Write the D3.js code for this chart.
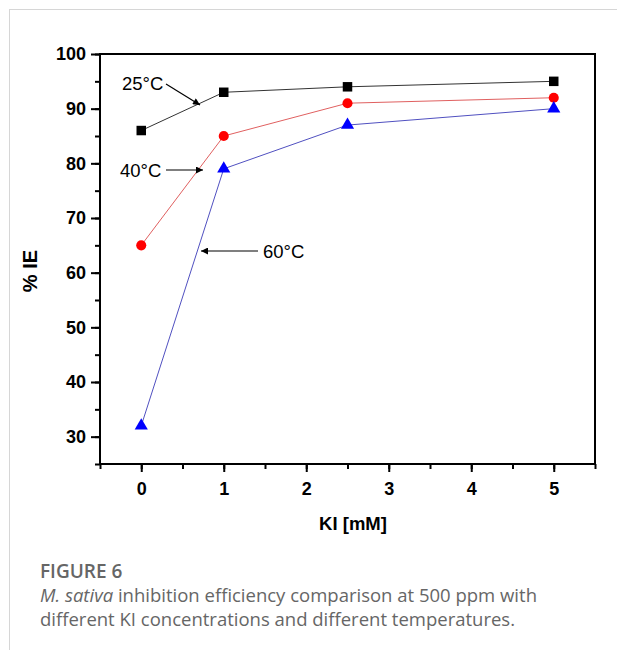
<!DOCTYPE html>
<head>
  <meta charset="utf-8">
  <script src="https://cdn.jsdelivr.net/npm/d3@7"></script>
<style>
    body {
        margin: 0;
        background: #fff;
    }
    .card {
        position: absolute;
        left: 9px;
        top: 9px;
        width: 620px;
        height: 650px;
        border-top: 1px solid #d6d6d6;
        border-left: 1px solid #d6d6d6;
    }
    .tick text {
        font-family: Arial, "Liberation Sans", sans-serif;
        font-weight: bold;
        font-size: 18px;
    }
    .caption {
        position: absolute;
        left: 40px;
        top: 559px;
        width: 575px;
        font-family: "Open Sans", sans-serif;
        color: #666;
        font-size: 18.5px;
        line-height: 24px;
    }
    .caption .fig {
        font-size: 19px;
        font-weight: 600;
        color: #666;
    }
</style>
</head>

<body>
<div class="card"></div>
<div class="caption">
  <div class="fig">FIGURE 6</div>
  <div><i>M. sativa</i> inhibition efficiency comparison at 500 ppm with<br>different KI concentrations and different temperatures.</div>
</div>

<script>

var kiValues = [0, 1, 2.5, 5];
var ie25 = [86, 93, 94, 95];
var ie40 = [65, 85, 91, 92];
var ie60 = [32, 79, 87, 90];
var xTicks = [0, 1, 2, 3, 4, 5];
var yTicks = [30, 40, 50, 60, 70, 80, 90, 100];

var series = [
    {name: "25°C", values: ie25, color: "#000", line: "#333", shape: d3.symbolSquare, size: 90},
    {name: "40°C", values: ie40, color: "#ff0000", line: "#e06060", shape: d3.symbolCircle, size: 80},
    {name: "60°C", values: ie60, color: "#0000ff", line: "#5050c0", shape: d3.symbolTriangle, size: 75}
];

var width = 617;
var height = 650;
var margin = {left: 100, top: 54, right: 22, bottom: 186};

var svg = d3.select("body")
    .append("svg")
    .attr("width", width)
    .attr("height", height)
    .style("position", "absolute")
    .style("left", 0)
    .style("top", 0);

var x = d3.scaleLinear()
    .domain([-0.5, 5.5])
    .range([margin.left, width - margin.right]);

var y = d3.scaleLinear()
    .domain([25, 100])
    .range([height - margin.bottom, margin.top]);

var font = 'Arial, "Liberation Sans", sans-serif';

// minor ticks
svg.append("g")
    .attr("transform", "translate(0," + y(25) + ")")
    .call(d3.axisBottom(x).tickValues(d3.range(-0.5, 5.6, 0.5)).tickSize(5).tickFormat(""))
    .call(g => g.select(".domain").remove())
    .selectAll("line").attr("stroke-width", 2);

svg.append("g")
    .attr("transform", "translate(" + x(-0.5) + ",0)")
    .call(d3.axisLeft(y).tickValues(d3.range(25, 101, 5)).tickSize(5).tickFormat(""))
    .call(g => g.select(".domain").remove())
    .selectAll("line").attr("stroke-width", 2);

// major ticks
var xAxis = svg.append("g")
    .attr("transform", "translate(0," + y(25) + ")")
    .call(d3.axisBottom(x).tickValues(xTicks).tickSize(8).tickPadding(10).tickFormat(d3.format("d")));
xAxis.select(".domain").remove();
xAxis.selectAll("line").attr("stroke-width", 2);

var yAxis = svg.append("g")
    .attr("transform", "translate(" + x(-0.5) + ",0)")
    .call(d3.axisLeft(y).tickValues(yTicks).tickSize(9).tickPadding(5));
yAxis.select(".domain").remove();
yAxis.selectAll("line").attr("stroke-width", 2);

// frame
svg.append("rect")
    .attr("x", x(-0.5))
    .attr("y", y(100))
    .attr("width", x(5.5) - x(-0.5))
    .attr("height", y(25) - y(100))
    .attr("fill", "none")
    .attr("stroke", "#000")
    .attr("stroke-width", 2);

var line = d3.line()
    .x(function (d, i) { return x(kiValues[i]); })
    .y(function (d) { return y(d); });

series.forEach(function (s) {
    svg.append("path")
        .datum(s.values)
        .attr("d", line)
        .attr("fill", "none")
        .attr("stroke", s.line)
        .attr("stroke-width", 1);

    svg.selectAll(null)
        .data(s.values)
        .enter()
        .append("path")
        .attr("d", d3.symbol().type(s.shape).size(s.size))
        .attr("transform", function (d, i) { return "translate(" + x(kiValues[i]) + "," + y(d) + ")"; })
        .attr("fill", s.color);
});

// annotations
svg.append("defs").append("marker")
    .attr("id", "arrow")
    .attr("viewBox", "0 0 10 10")
    .attr("refX", 10)
    .attr("refY", 5)
    .attr("markerWidth", 10)
    .attr("markerHeight", 7)
    .attr("markerUnits", "userSpaceOnUse")
    .attr("orient", "auto")
    .append("path")
    .attr("d", "M0,0L10,5L0,10Z")
    .attr("fill", "#000");

var notes = [
    {text: "25°C", tx: 122, ty: 90, x1: 166, y1: 84, x2: 200, y2: 105},
    {text: "40°C", tx: 120, ty: 177, x1: 166, y1: 170, x2: 203, y2: 170},
    {text: "60°C", tx: 263, ty: 258, x1: 258, y1: 251, x2: 201, y2: 251}
];

notes.forEach(function (n) {
    svg.append("text")
        .attr("x", n.tx)
        .attr("y", n.ty)
        .attr("font-family", font)
        .attr("font-size", 18.5)
        .text(n.text);
    svg.append("line")
        .attr("x1", n.x1).attr("y1", n.y1)
        .attr("x2", n.x2).attr("y2", n.y2)
        .attr("stroke", "#000")
        .attr("stroke-width", 1.2)
        .attr("marker-end", "url(#arrow)");
});

// axis titles
svg.append("text")
    .attr("x", 353)
    .attr("y", 530)
    .attr("text-anchor", "middle")
    .attr("font-family", font)
    .attr("font-weight", "bold")
    .attr("font-size", 18.5)
    .text("KI [mM]");

svg.append("text")
    .attr("transform", "translate(37,271) rotate(-90)")
    .attr("text-anchor", "middle")
    .attr("font-family", font)
    .attr("font-weight", "bold")
    .attr("font-size", 20)
    .text("% IE");

</script>
</body>
